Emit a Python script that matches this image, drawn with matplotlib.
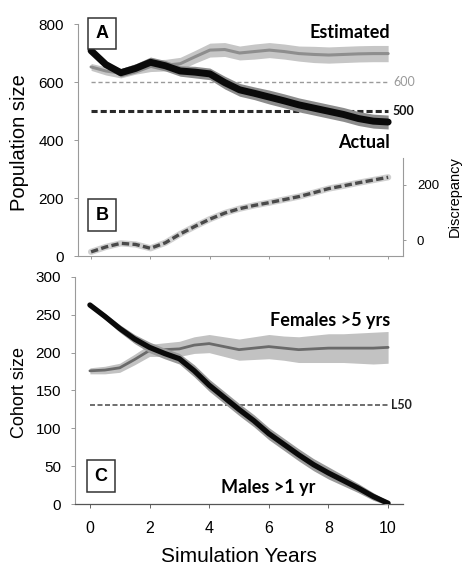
import matplotlib.pyplot as plt

plt.rcParams['font.family'] = ['Liberation Sans', 'DejaVu Sans']

# Data
years = [0, 0.5, 1, 1.5, 2, 2.5, 3, 3.5, 4, 4.5, 5, 5.5, 6, 6.5, 7, 7.5, 8, 8.5, 9, 9.5, 10]

actual = [708, 660, 632, 647, 668, 656, 638, 634, 628, 598, 573, 561, 548, 535, 521, 510, 499, 488, 474, 465, 462]
actual_sd = [5, 10, 14, 16, 18, 18, 18, 20, 20, 22, 22, 22, 24, 24, 24, 24, 24, 24, 24, 24, 24]
estimated = [652, 638, 630, 645, 656, 658, 663, 687, 710, 712, 700, 705, 710, 705, 698, 695, 693, 695, 697, 698, 698]
estimated_sd = [12, 14, 16, 18, 20, 20, 22, 22, 24, 24, 24, 26, 26, 26, 26, 28, 28, 28, 28, 28, 28]
discrepancy = [-43, -25, -12, -16, -30, -10, 22, 50, 76, 98, 114, 126, 136, 147, 158, 172, 187, 197, 208, 218, 228]

males = [263, 248, 232, 218, 207, 199, 192, 176, 157, 141, 125, 110, 93, 79, 65, 52, 41, 31, 21, 10, 1]
males_sd = [3, 4, 5, 6, 7, 7, 7, 8, 8, 8, 8, 8, 8, 8, 8, 8, 8, 7, 6, 5, 3]
females = [176, 177, 180, 191, 203, 204, 205, 210, 212, 208, 204, 206, 208, 206, 204, 205, 206, 206, 206, 206, 207]
females_sd = [4, 5, 6, 7, 8, 9, 10, 11, 12, 13, 14, 15, 16, 16, 17, 18, 19, 19, 20, 21, 21]

target_high = 600
target_low = 500
l50_level = 131

pop_ticks = [0, 200, 400, 600, 800]
disc_ticks = [0, 200]
cohort_ticks = [0, 50, 100, 150, 200, 250, 300]
year_ticks = [0, 2, 4, 6, 8, 10]

W, H = 464, 566


def px_rect(left, top, right, bottom):
    return [left / W, 1 - bottom / H, (right - left) / W, (bottom - top) / H]


def band(y, sd):
    lo = [v - s for v, s in zip(y, sd)]
    hi = [v + s for v, s in zip(y, sd)]
    return lo, hi


bold = dict(family=['Lato', 'DejaVu Sans'], weight='bold', size=13)
boxlab = dict(family=['Liberation Sans', 'DejaVu Sans'], weight='bold', size=13,
              ha='center', va='center',
              bbox=dict(boxstyle='square,pad=0.4', fc='white', ec='#333333', lw=1.1))
smooth = dict(solid_capstyle='round', solid_joinstyle='round')

fig = plt.figure(figsize=(4.64, 5.66), dpi=100)

# ---------------- panel A / B ----------------
ax = fig.add_axes(px_rect(78, 24, 403, 256))
ax.set_xlim(-0.44, 10.5)
ax.set_ylim(0, 800)

ax.hlines(target_high, 0, 10, colors='#9a9a9a', linestyles=(0, (3, 2)), lw=1.0, zorder=1)
ax.hlines(target_low, 0, 10, colors='#2a2a2a', linestyles=(0, (2, 1)), lw=2.2, zorder=1)

lo, hi = band(estimated, estimated_sd)
ax.fill_between(years, lo, hi, color='#c6c6c6', lw=0, zorder=2)
ax.plot(years, estimated, color='#8e8e8e', lw=2.2, zorder=3, **smooth)

lo, hi = band(actual, actual_sd)
ax.fill_between(years, lo, hi, color='#8c8c8c', lw=0, zorder=4)
ax.plot(years, actual, color='#0a0a0a', lw=5, zorder=5, **smooth)

ax.text(10.07, 769, 'Estimated', ha='right', va='center', **bold)
ax.text(10.05, 390, 'Actual', ha='right', va='center', **bold)
ax.text(10.17, target_high, '600', ha='left', va='center', color='#9a9a9a',
        family=['Lato', 'DejaVu Sans'], size=9)
ax.text(10.13, target_low, '500', ha='left', va='center', color='#111111',
        family=['Lato', 'DejaVu Sans'], weight='bold', size=9)

ax.set_yticks(pop_ticks)
ax.set_xticks(year_ticks)
ax.set_xticklabels([])
ax.tick_params(axis='y', labelsize=11, length=3, width=0.7, color='#999999', pad=7)
ax.tick_params(axis='x', length=2.5, width=0.7, color='#999999')
for s in ['top', 'right']:
    ax.spines[s].set_visible(False)
for s in ['left', 'bottom']:
    ax.spines[s].set_color('#9a9a9a')
    ax.spines[s].set_linewidth(0.8)

ax.text(0.37, 768, 'A', clip_on=False, zorder=10, **boxlab)
ax.text(0.37, 141, 'B', zorder=10, **boxlab)

# discrepancy on a secondary axis
ax2 = ax.twinx()
ax2.set_ylim(-58, 785)
ax2.plot(years, discrepancy, color='#d0d0d0', lw=4.5, zorder=1, **smooth)
ax2.plot(years, discrepancy, color='#4a4a4a', lw=2.4, ls=(0, (2.2, 1)), zorder=2)
ax2.set_yticks(disc_ticks)
ax2.tick_params(axis='y', labelsize=9.5, length=2, width=0.7, color='#999999', pad=8)
for s in ['top', 'left', 'bottom']:
    ax2.spines[s].set_visible(False)
ax2.spines['right'].set_bounds(-58, 298)
ax2.spines['right'].set_color('#9a9a9a')
ax2.spines['right'].set_linewidth(0.8)

# ---------------- panel C ----------------
axc = fig.add_axes(px_rect(75, 277, 403, 504))
axc.set_xlim(-0.5, 10.5)
axc.set_ylim(0, 300)

axc.hlines(l50_level, 0, 10, colors='#555555', linestyles=(0, (3, 1.5)), lw=1.2, zorder=1)

lo, hi = band(females, females_sd)
axc.fill_between(years, lo, hi, color='#c2c2c2', lw=0, zorder=2)
axc.plot(years, females, color='#6a6a6a', lw=2.0, zorder=3, **smooth)

lo, hi = band(males, males_sd)
axc.fill_between(years, lo, hi, color='#9a9a9a', lw=0, zorder=4)
axc.plot(years, males, color='#0a0a0a', lw=3.8, zorder=5, **smooth)

axc.text(10.07, 243, 'Females >5 yrs', ha='right', va='center', **bold)
axc.text(7.55, 22, 'Males >1 yr', ha='right', va='center', **bold)
axc.text(10.1, l50_level, 'L50', ha='left', va='center', color='#222222',
         family=['Lato', 'DejaVu Sans'], weight='bold', size=9)
axc.text(0.37, 37, 'C', zorder=10, **boxlab)

axc.set_yticks(cohort_ticks)
axc.set_xticks(year_ticks)
axc.tick_params(axis='y', labelsize=11, length=3, width=0.7, color='#999999', pad=7)
axc.tick_params(axis='x', labelsize=11.5, length=3, width=0.7, color='#666666', pad=9)
for s in ['top', 'right']:
    axc.spines[s].set_visible(False)
axc.spines['left'].set_color('#9a9a9a')
axc.spines['left'].set_linewidth(0.8)
axc.spines['bottom'].set_color('#555555')
axc.spines['bottom'].set_linewidth(0.9)

# axis titles
fig.text(20 / W, 1 - 143 / H, 'Population size', rotation=90, ha='center', va='center', size=14.5)
fig.text(20 / W, 1 - 393 / H, 'Cohort size', rotation=90, ha='center', va='center', size=13)
fig.text(455 / W, 1 - 197 / H, 'Discrepancy', rotation=90, ha='center', va='center', size=10.5)
fig.text(239 / W, 1 - 557 / H, 'Simulation Years', ha='center', va='center', size=15)

fig.savefig('out.png', dpi=100)
